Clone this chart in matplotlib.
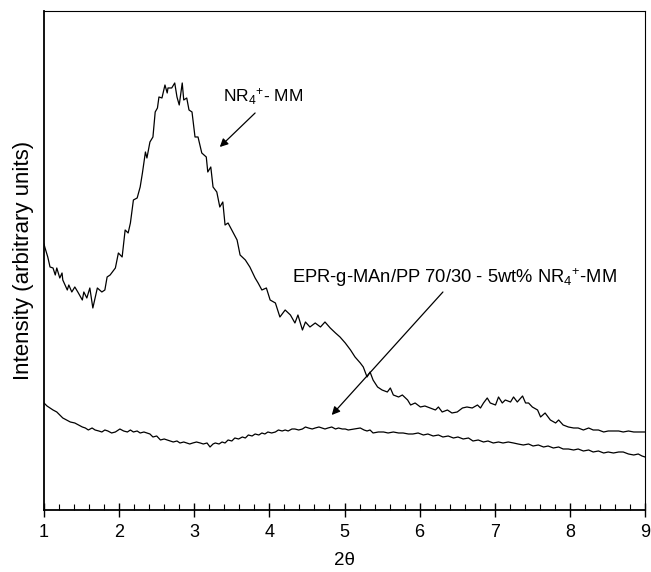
import matplotlib.pyplot as plt

plt.rcParams['font.family'] = ['Liberation Sans', 'DejaVu Sans']
plt.rcParams['mathtext.fontset'] = 'custom'
plt.rcParams['mathtext.rm'] = 'Liberation Sans'
plt.rcParams['mathtext.it'] = 'Liberation Sans:italic'

# Krivka NR4+-MM (horna)
x_mm = [1.00, 1.01, 1.05, 1.08, 1.12, 1.15, 1.17, 1.21, 1.24, 1.25, 1.31, 1.33, 1.37, 1.41, 1.45,
        1.51, 1.53, 1.57, 1.61, 1.65, 1.71, 1.77, 1.81, 1.84, 1.88, 1.95, 1.99, 2.04, 2.08, 2.12,
        2.15, 2.19, 2.24, 2.28, 2.31, 2.35, 2.37, 2.41, 2.45, 2.48, 2.51, 2.53, 2.57, 2.61, 2.64,
        2.65, 2.70, 2.74, 2.77, 2.80, 2.84, 2.86, 2.90, 2.93, 2.97, 3.01, 3.05, 3.10, 3.16, 3.18,
        3.22, 3.25, 3.30, 3.34, 3.38, 3.41, 3.45, 3.50, 3.57, 3.61, 3.68, 3.74, 3.81, 3.85, 3.90,
        3.96, 4.01, 4.08, 4.14, 4.21, 4.28, 4.34, 4.38, 4.44, 4.48, 4.54, 4.61, 4.68, 4.74, 4.81,
        4.88, 4.94, 5.01, 5.08, 5.14, 5.21, 5.25, 5.30, 5.34, 5.38, 5.44, 5.50, 5.57, 5.61, 5.65,
        5.72, 5.77, 5.84, 5.88, 5.94, 6.01, 6.07, 6.14, 6.21, 6.25, 6.30, 6.37, 6.43, 6.50, 6.57,
        6.63, 6.70, 6.77, 6.81, 6.85, 6.90, 6.94, 7.01, 7.05, 7.10, 7.14, 7.21, 7.25, 7.30, 7.37,
        7.41, 7.45, 7.50, 7.57, 7.61, 7.67, 7.74, 7.81, 7.85, 7.91, 7.98, 8.05, 8.11, 8.18, 8.25,
        8.31, 8.38, 8.45, 8.51, 8.58, 8.65, 8.71, 8.78, 8.85, 8.91, 9.00]
y_mm = [266, 263, 253, 243, 242, 235, 242, 232, 237, 230, 220, 225, 218, 223, 218,
        210, 218, 212, 222, 202, 222, 218, 220, 233, 235, 242, 257, 253, 280, 277,
        287, 310, 312, 323, 337, 358, 352, 368, 373, 398, 402, 413, 412, 425, 417,
        422, 422, 427, 413, 405, 427, 410, 412, 400, 398, 373, 373, 357, 353, 338,
        343, 323, 318, 303, 308, 285, 287, 280, 270, 255, 250, 243, 232, 227, 220,
        222, 210, 207, 193, 200, 195, 187, 195, 180, 188, 183, 187, 183, 188, 182,
        177, 173, 167, 160, 153, 147, 143, 133, 138, 130, 123, 120, 118, 122, 115,
        113, 115, 110, 105, 107, 103, 104, 102, 100, 103, 98, 100, 97, 98, 102,
        103, 102, 105, 102, 107, 112, 107, 105, 113, 107, 110, 108, 113, 108, 114,
        107, 107, 103, 100, 93, 97, 90, 87, 90, 85, 83, 82, 82, 80, 82,
        80, 80, 78, 79, 79, 79, 78, 79, 78, 78, 78]

# Krivka EPR-g-MAn/PP 70/30 - 5wt% NR4+-MM (dolna)
x_epr = [1.00, 1.04, 1.08, 1.12, 1.17, 1.21, 1.25, 1.30, 1.35, 1.41, 1.46, 1.51, 1.55, 1.59, 1.64,
         1.68, 1.73, 1.77, 1.81, 1.85, 1.90, 1.95, 2.01, 2.06, 2.11, 2.15, 2.19, 2.24, 2.28, 2.33,
         2.37, 2.41, 2.45, 2.50, 2.55, 2.60, 2.64, 2.68, 2.72, 2.77, 2.81, 2.86, 2.90, 2.94, 2.98,
         3.03, 3.08, 3.12, 3.17, 3.21, 3.25, 3.28, 3.33, 3.37, 3.41, 3.45, 3.50, 3.54, 3.59, 3.64,
         3.68, 3.72, 3.77, 3.81, 3.86, 3.90, 3.94, 3.98, 4.03, 4.08, 4.12, 4.17, 4.21, 4.25, 4.30,
         4.34, 4.39, 4.44, 4.48, 4.52, 4.57, 4.61, 4.66, 4.70, 4.74, 4.78, 4.83, 4.88, 4.92, 4.97,
         5.01, 5.05, 5.13, 5.21, 5.26, 5.30, 5.34, 5.38, 5.45, 5.52, 5.58, 5.65, 5.72, 5.78, 5.85,
         5.91, 5.98, 6.05, 6.11, 6.18, 6.25, 6.31, 6.38, 6.45, 6.51, 6.58, 6.65, 6.71, 6.78, 6.85,
         6.91, 6.98, 7.05, 7.11, 7.18, 7.25, 7.31, 7.38, 7.45, 7.51, 7.58, 7.65, 7.71, 7.78, 7.85,
         7.91, 7.98, 8.05, 8.11, 8.18, 8.25, 8.31, 8.38, 8.45, 8.51, 8.58, 8.65, 8.71, 8.78, 8.85,
         8.91, 8.96, 9.00]
y_epr = [107, 104, 102, 100, 98, 95, 92, 90, 88, 87, 85, 83, 82, 80, 82,
         80, 79, 78, 80, 79, 77, 78, 81, 79, 78, 80, 78, 79, 77, 78,
         77, 76, 73, 74, 70, 71, 70, 69, 68, 69, 67, 68, 67, 66, 67,
         68, 67, 66, 67, 63, 66, 67, 66, 68, 67, 70, 69, 72, 71, 73,
         72, 75, 74, 76, 75, 77, 76, 78, 77, 78, 80, 79, 80, 79, 81,
         81, 80, 81, 83, 82, 81, 82, 83, 82, 81, 82, 83, 81, 82, 81,
         81, 80, 81, 82, 80, 79, 80, 77, 78, 78, 77, 78, 77, 77, 76,
         76, 77, 75, 76, 74, 75, 73, 74, 72, 73, 71, 72, 69, 70, 68,
         69, 67, 68, 67, 68, 67, 66, 65, 66, 64, 65, 63, 64, 62, 63,
         61, 61, 60, 61, 59, 60, 58, 59, 57, 58, 57, 58, 58, 56, 55,
         56, 54, 53]

fig = plt.figure(figsize=(6.51, 5.72), dpi=100)
ax = fig.add_axes([0.0676, 0.1084, 0.9232, 0.8724])

ax.plot(x_mm, y_mm, color='black', linewidth=0.9)
ax.plot(x_epr, y_epr, color='black', linewidth=0.9)

ax.set_xlim(1, 9)
ax.set_ylim(0, 499)
ax.set_xticks(range(1, 10))
ax.set_xticks([1 + 0.2 * i for i in range(41)], minor=True)
ax.tick_params(axis='x', which='major', direction='inout', length=10, width=1, labelsize=13, pad=5)
ax.tick_params(axis='x', which='minor', direction='in', length=4, width=0.8)
ax.set_yticks([])
for s in ax.spines.values():
    s.set_linewidth(1.3)
ax.spines['top'].set_linewidth(0.8)
ax.spines['right'].set_linewidth(0.8)

ax.set_xlabel('2\u03b8', fontsize=13.5, labelpad=8)
ax.set_ylabel('Intensity (arbitrary units)', fontsize=16, labelpad=7)

# Popisky so sipkami
ax.text(3.38, 408, 'NR$_4$$^{+}$- MM', fontsize=12.5, ha='left', va='baseline')
ax.annotate('', xy=(3.34, 363), xytext=(3.81, 397),
            arrowprops=dict(arrowstyle='-|>', color='black', lw=0.9, mutation_scale=12,
                            shrinkA=0, shrinkB=0))
ax.text(4.30, 227, 'EPR-g-MAn/PP 70/30 - 5wt% NR$_4$$^{+}$-MM', fontsize=13.2, ha='left', va='baseline')
ax.annotate('', xy=(4.83, 95), xytext=(6.31, 218),
            arrowprops=dict(arrowstyle='-|>', color='black', lw=0.9, mutation_scale=12,
                            shrinkA=0, shrinkB=0))

plt.savefig('out.png', dpi=100)
